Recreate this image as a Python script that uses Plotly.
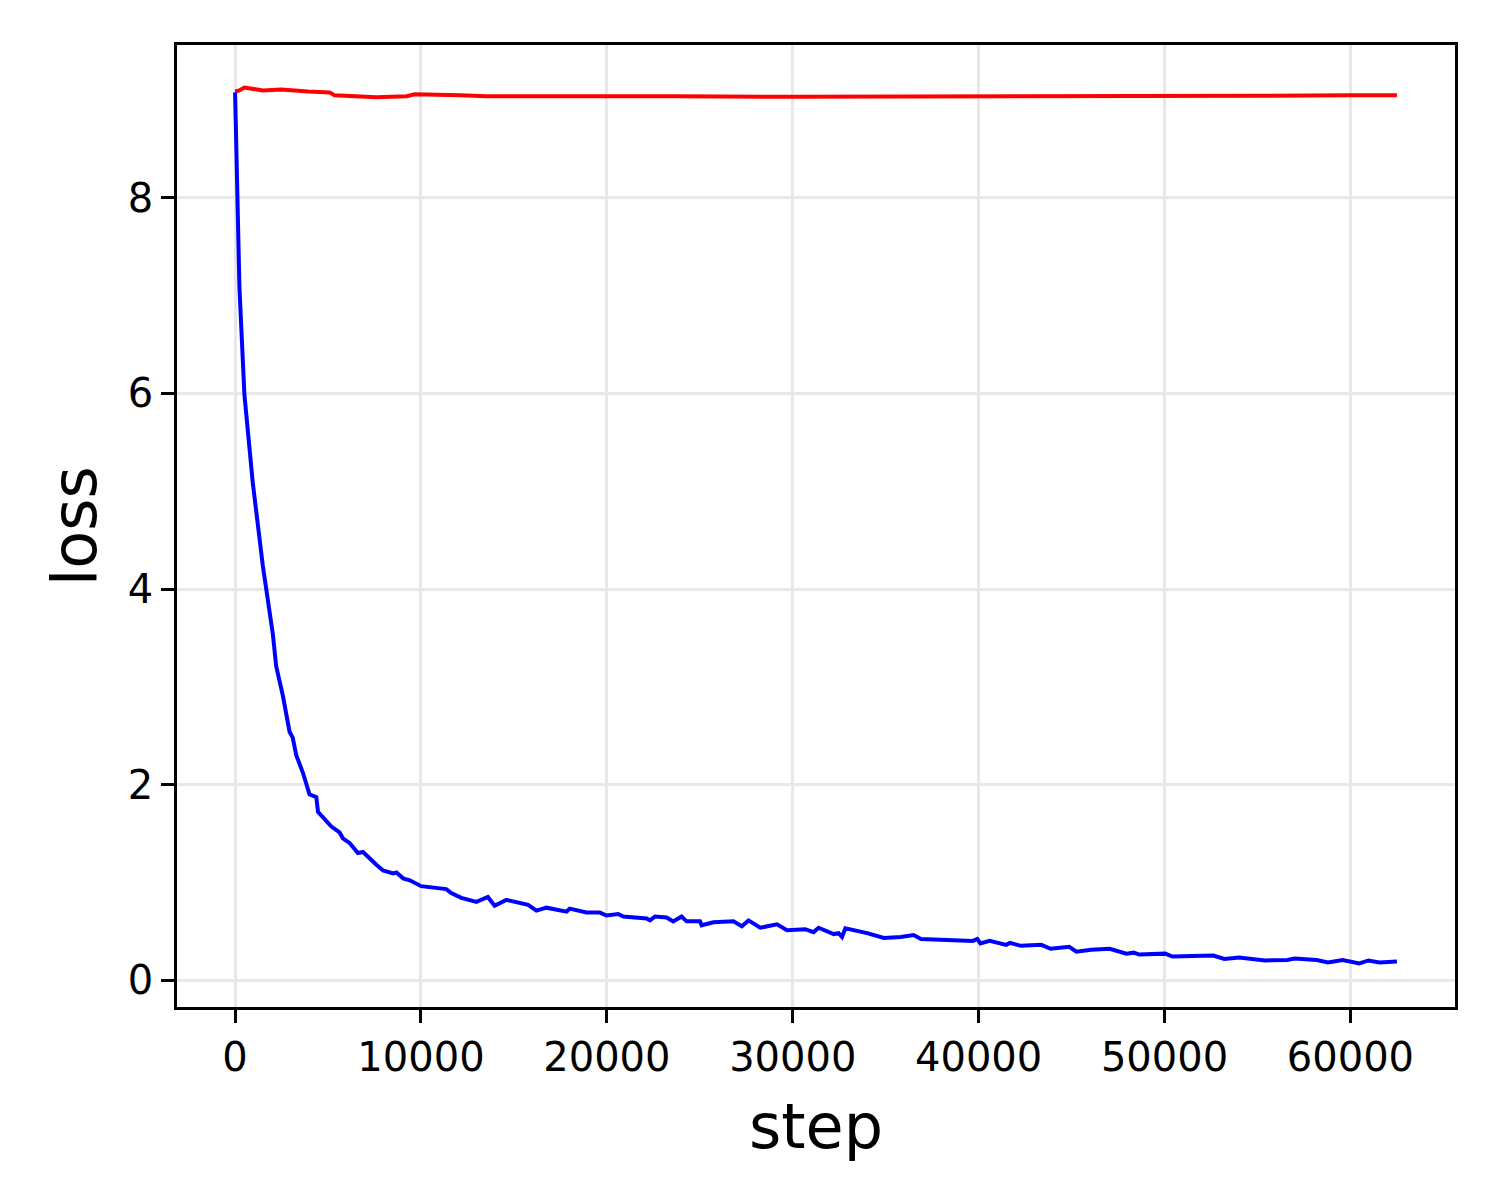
"""Curva de loss por step: duas séries (treino em azul, referência em vermelho)."""

import plotly.graph_objects as go

# valores
passos_azul = [
    0, 145, 233, 500, 950, 1490, 2030, 2210, 2570, 2930, 3100, 3290, 3650,
    4000, 4370, 4460, 4730, 5180, 5620, 5800, 6170, 6610, 6880, 7240, 7600,
    7960, 8500, 8680, 9040, 9400, 10010, 11360, 11630, 12170, 12980, 13600,
    13960, 14590, 15760, 16210, 16750, 17830, 18000, 18900, 19620, 19980,
    20610, 20880, 22140, 22320, 22590, 23210, 23570, 24020, 24290, 25010,
    25100, 25730, 26810, 27260, 27620, 28250, 29150, 29690, 30670, 31120,
    31390, 32200, 32470, 32650, 32830, 34000, 34900, 35800, 36500, 36900,
    38000, 39690, 39930, 40090, 40590, 41480, 41680, 42280, 43370, 43870,
    44870, 45260, 46050, 47050, 47940, 48340, 48640, 50030, 50430, 52620,
    53220, 54010, 55410, 56600, 57000, 58190, 58790, 59580, 60480, 60970,
    61570, 62500,
]
loss_azul = [
    9.08, 7.99, 7.09, 5.99, 5.09, 4.24, 3.54, 3.21, 2.91, 2.54, 2.48, 2.30,
    2.12, 1.90, 1.87, 1.72, 1.66, 1.57, 1.51, 1.45, 1.40, 1.30, 1.31, 1.24,
    1.18, 1.12, 1.09, 1.10, 1.04, 1.02, 0.96, 0.93, 0.89, 0.84, 0.80, 0.85,
    0.76, 0.82, 0.77, 0.71, 0.74, 0.70, 0.73, 0.69, 0.69, 0.66, 0.675, 0.65,
    0.63, 0.61, 0.65, 0.64, 0.60, 0.65, 0.60, 0.60, 0.56, 0.59, 0.60, 0.55,
    0.61, 0.535, 0.57, 0.51, 0.52, 0.49, 0.535, 0.47, 0.48, 0.44, 0.53, 0.48,
    0.43, 0.44, 0.46, 0.42, 0.41, 0.40, 0.42, 0.375, 0.40, 0.36, 0.38, 0.35,
    0.36, 0.32, 0.34, 0.29, 0.31, 0.32, 0.27, 0.28, 0.26, 0.27, 0.24, 0.25,
    0.215, 0.23, 0.20, 0.205, 0.22, 0.205, 0.18, 0.205, 0.17, 0.20, 0.18,
    0.19,
]

passos_vermelho = [
    0, 230, 500, 1490, 2480, 3110, 3920, 5090, 5350, 7600, 8500, 9220, 9670,
    10480, 12100, 13530, 16580, 20180, 20900, 23770, 30000, 40000, 45000,
    50000, 55000, 60000, 62500,
]
loss_vermelho = [
    9.09, 9.10, 9.13, 9.10, 9.11, 9.10, 9.09, 9.08, 9.05, 9.03, 9.04, 9.04,
    9.06, 9.06, 9.05, 9.04, 9.04, 9.04, 9.05, 9.04, 9.035, 9.035, 9.035,
    9.04, 9.045, 9.05, 9.05,
]

ticks_x = [0, 10000, 20000, 30000, 40000, 50000, 60000]
rotulos_x = ["0", "10000", "20000", "30000", "40000", "50000", "60000"]
ticks_y = [0, 2, 4, 6, 8]

FONTE = "DejaVu Sans"
COR_GRADE = "#e8e8e8"

fig = go.Figure()
fig.add_trace(go.Scatter(
    x=passos_vermelho, y=loss_vermelho, mode="lines",
    line=dict(color="#ff0000", width=4), showlegend=False,
))
fig.add_trace(go.Scatter(
    x=passos_azul, y=loss_azul, mode="lines",
    line=dict(color="#0000ff", width=4), showlegend=False,
))

eixo_comum = dict(
    showline=True, mirror=True, linecolor="black", linewidth=2.5,
    ticks="outside", ticklen=13, tickwidth=2.5, tickcolor="black",
    showgrid=True, gridcolor=COR_GRADE, gridwidth=2.5, zeroline=False,
    tickfont=dict(family=FONTE, size=40, color="black"),
)

fig.update_layout(
    width=1500, height=1200,
    margin=dict(l=169, r=53, t=37, b=201),
    paper_bgcolor="white", plot_bgcolor="white",
    font=dict(family=FONTE, color="black"),
    xaxis=dict(
        range=[-3125, 65625], tickvals=ticks_x, ticktext=rotulos_x,
        title=dict(text="step", font=dict(family=FONTE, size=62), standoff=26),
        **eixo_comum,
    ),
    yaxis=dict(
        range=[-0.276, 9.565], tickvals=ticks_y,
        title=dict(text="loss", font=dict(family=FONTE, size=62), standoff=12),
        **eixo_comum,
    ),
)

fig.write_html("out.html")
